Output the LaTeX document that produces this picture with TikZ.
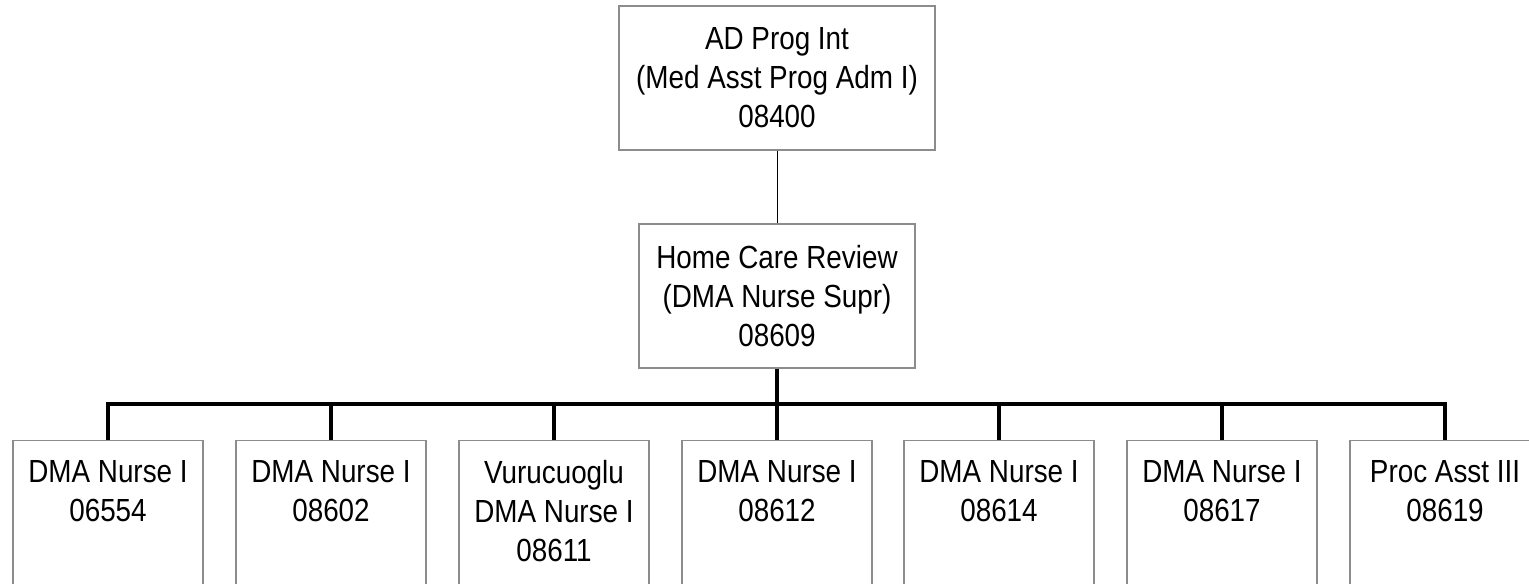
\documentclass[tikz,border=0pt]{standalone}
\usepackage{fontspec}
\setmainfont{Liberation Sans}[FakeStretch=0.87]
\definecolor{boxgray}{RGB}{140,140,140}
\begin{document}
\begin{tikzpicture}[x=0.5pt,y=0.5pt,
    font=\fontsize{16}{19.5}\selectfont,
    post/.style={draw=boxgray, line width=0.7pt, align=center, inner sep=0pt},
    leaf/.style={post, anchor=north, minimum width=95pt, inner ysep=10pt, text depth=120pt},
    link/.style={line width=0.5pt},
    bus/.style={line width=2pt}]
  \useasboundingbox (0,0) rectangle (1529,583);
  \clip (0,0) rectangle (1529,583);

  \node[post, minimum width=158pt, minimum height=72pt] (adm) at (777,505) {AD Prog Int\\(Med Asst Prog Adm I)\\08400};
  \node[post, minimum width=138pt, minimum height=72pt] (supr) at (777,287) {Home Care Review\\(DMA Nurse Supr)\\08609};

  \node[leaf] (n1) at (108,143) {DMA Nurse I\\06554};
  \node[leaf] (n2) at (331,143) {DMA Nurse I\\08602};
  \node[leaf] (n3) at (554,143) {Vurucuoglu\\DMA Nurse I\\08611};
  \node[leaf] (n4) at (777,143) {DMA Nurse I\\08612};
  \node[leaf] (n5) at (999,143) {DMA Nurse I\\08614};
  \node[leaf] (n6) at (1222,143) {DMA Nurse I\\08617};
  \node[leaf] (n7) at (1445,143) {Proc Asst III\\08619};

  \coordinate (bus) at (777,179);
  \draw[link] (adm) -- (supr);
  \draw[bus] (supr.south) -- (n4.north);
  \draw[bus] (n1.north) -- (n1.north |- bus) -- (n7.north |- bus) -- (n7.north);
  \foreach \i in {2,3,5,6}
    \draw[bus] (n\i.north) -- (n\i.north |- bus);
\end{tikzpicture}
\end{document}
